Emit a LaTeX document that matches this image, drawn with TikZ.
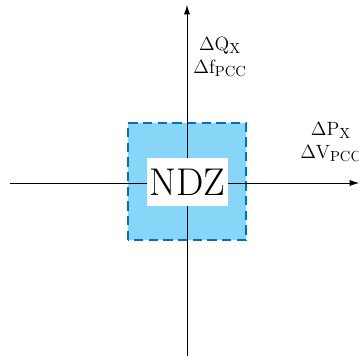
\documentclass[tikz,border=0pt]{standalone}
\usepackage{amsmath}
\usepackage{tikz}
\usetikzlibrary{arrows.meta,positioning}
\definecolor{ndzfill}{RGB}{135,214,248}
\definecolor{ndzblue}{RGB}{0,114,198}

\begin{document}
\begin{tikzpicture}[x=.75pt,y=.75pt,
axis/.style={-{Latex[length=7pt,width=4.5pt]},line width=.5pt},
zone/.style={draw=ndzblue,fill=ndzfill,dashed,dash pattern=on 7pt off 4pt,line width=1.2pt},
lbl/.style={align=center,inner sep=1pt,font=\fontsize{15}{17}\selectfont}]
\useasboundingbox(0,0)rectangle(359,356);
\draw[zone](128,116)rectangle(246,233);
\coordinate(xs)at(10,173);\coordinate(xe)at(359,173);
\coordinate(ys)at(187,0);\coordinate(ye)at(187,351);
\draw[axis](xs)--(xe);
\draw[axis](ys)--(ye);
\node[fill=white,inner xsep=2pt,inner ysep=8pt,font=\fontsize{29}{32}\selectfont](ndz)at(187.5,174){NDZ};
\node[lbl](qf)at(220,299){$\Delta\mathrm{Q}_{\mathrm{X}}$\\$\Delta\mathrm{f}_{\mathrm{PCC}}$};
\node[lbl](pv)at(331,214){$\Delta\mathrm{P}_{\mathrm{X}}$\\$\Delta\mathrm{V}_{\mathrm{PCC}}$};
\end{tikzpicture}
\end{document}
